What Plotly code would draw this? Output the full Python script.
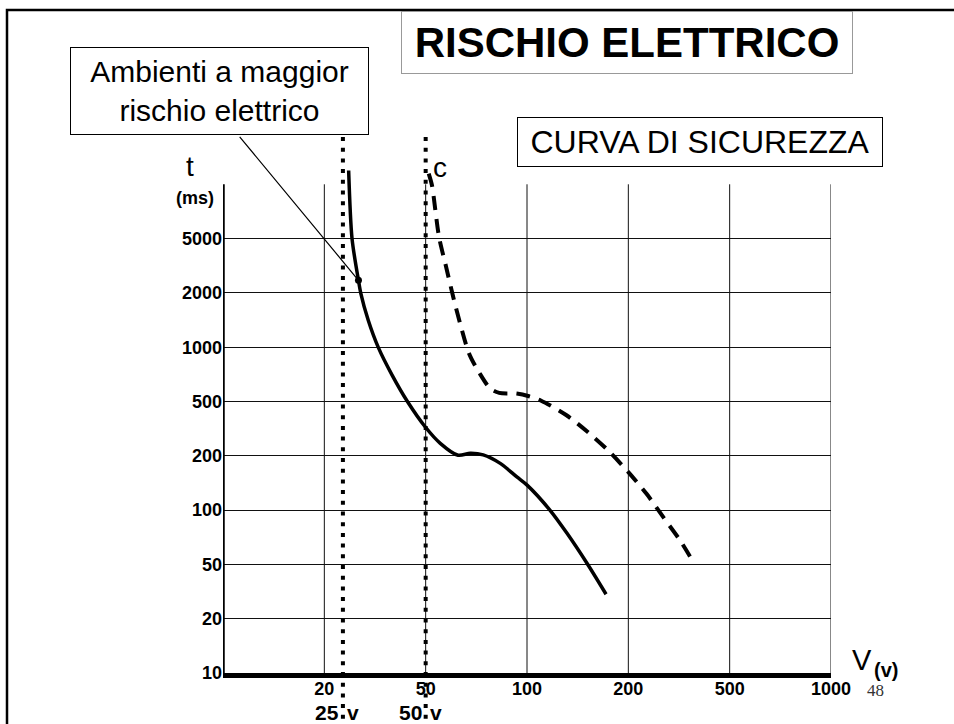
import numpy as np
import plotly.graph_objects as go

# ---------------- data ----------------
# 1-2-5 grid scale used by the chart (equal spacing between successive values)
grid_scale = [10, 20, 50, 100, 200, 500, 1000, 2000, 5000, 10000, 20000]

x_tick_values = [20, 50, 100, 200, 500, 1000]
x_tick_labels = ["20", "50", "100", "200", "500", "1000"]
y_tick_values = [10, 20, 50, 100, 200, 500, 1000, 2000, 5000]
y_tick_labels = ["10", "20", "50", "100", "200", "500", "1000", "2000", "5000"]

# safety curve for environments with higher electrical risk (solid)
curve_L_V = [27.2, 28.2, 30.1, 30.8, 33.0, 36.0, 40.1, 44.7, 49.9, 57.2, 66.0,
             72.0, 78.4, 86.8, 95.0, 100.1, 122.8, 139.5, 159.2, 178.0]
curve_L_t = [12540, 5000, 2696, 1993, 1496, 996, 741, 497, 359, 269, 203,
             214, 205, 186, 161, 146, 99.8, 78.6, 51, 33.5]

# curve C, ordinary environments (dashed)
curve_C_V = [51.5, 53.1, 56.6, 60.1, 63.6, 67.0, 71.4, 76.7, 81.9, 86.3, 94.9,
             102, 114, 139, 160, 180, 200, 254, 303, 353, 395]
curve_C_t = [11970, 9910, 5145, 3431, 1924, 1435, 943, 757, 619, 579, 573,
             548, 507, 424, 331, 230, 170, 130, 93.7, 72.2, 50.8]

# highlighted point on the solid curve
point_V = [30.1]
point_t = [2696]

# reference voltages (dotted verticals)
limit_voltages = [25.5, 50]
limit_labels = ["25", "50"]

# ---------------- helpers ----------------
grid_idx = list(range(len(grid_scale)))


def g(v):
    return np.interp(np.asarray(v, dtype=float), grid_scale, grid_idx)


W, H = 954, 724
ML, MR, MT, MB = 223, 123, 168, 51
PW, PH = W - ML - MR, H - MT - MB
Y_TOP = 9.3


def px(x):
    return (x - ML) / PW


def py(y):
    return (H - MB - y) / PH


FONT = "Liberation Sans, Arial, sans-serif"

fig = go.Figure()

fig.add_trace(go.Scatter(
    x=g(curve_L_V), y=g(curve_L_t), mode="lines",
    line=dict(color="black", width=3.5, shape="spline", smoothing=0.8),
    showlegend=False, hoverinfo="skip"))

fig.add_trace(go.Scatter(
    x=g(curve_C_V), y=g(curve_C_t), mode="lines",
    line=dict(color="black", width=4, dash="14px,9px", shape="spline", smoothing=0.8),
    showlegend=False, hoverinfo="skip"))

fig.add_trace(go.Scatter(
    x=g(point_V), y=g(point_t), mode="markers",
    marker=dict(color="black", size=7),
    showlegend=False, hoverinfo="skip"))

shapes = []
# vertical grid lines (stop at the top tick row)
for v in x_tick_values:
    xi = float(g(v))
    shapes.append(dict(type="line", xref="x", yref="y", x0=xi, x1=xi,
                       y0=0, y1=float(g(10000)), line=dict(color="#111", width=1),
                       layer="below"))
# y axis line
shapes.append(dict(type="line", xref="x", yref="y", x0=0, x1=0, y0=0,
                   y1=float(g(10000)), line=dict(color="black", width=3.5)))
# dotted reference voltage lines
for v in limit_voltages:
    xi = float(g(v))
    shapes.append(dict(type="line", xref="x", yref="paper", x0=xi, x1=xi,
                       y0=py(137), y1=-0.25,
                       line=dict(color="black", width=4, dash="4px,6.7px")))
# slide border
shapes.append(dict(type="rect", xref="paper", yref="paper",
                   x0=px(7), x1=px(980), y0=py(10), y1=py(760),
                   line=dict(color="black", width=2.5), fillcolor="rgba(0,0,0,0)"))


def label(text, x, y, size, family=FONT, color="black"):
    return dict(text=text, xref="paper", yref="paper", x=px(x), y=py(y),
                xanchor="center", yanchor="middle", showarrow=False,
                font=dict(family=family, size=size, color=color))


annotations = [
    dict(text="<b>RISCHIO ELETTRICO</b>", xref="paper", yref="paper",
         x=px(627), y=py(42.5), showarrow=False, xanchor="center", yanchor="middle",
         font=dict(family=FONT, size=42, color="black"),
         bordercolor="#999", borderwidth=1, borderpad=0, bgcolor="white",
         width=450, height=61),
    dict(text="Ambienti a maggior<br>rischio elettrico", xref="paper", yref="paper",
         x=px(219), y=py(91.4), showarrow=False, xanchor="center", yanchor="middle",
         font=dict(family=FONT, size=30, color="black"),
         bordercolor="black", borderwidth=1, borderpad=0, bgcolor="white",
         width=297, height=86),
    dict(text="CURVA DI SICUREZZA", xref="paper", yref="paper",
         x=px(700.3), y=py(142), showarrow=False, xanchor="center", yanchor="middle",
         font=dict(family=FONT, size=32, color="black"),
         bordercolor="black", borderwidth=1, borderpad=0, bgcolor="white",
         width=364, height=48),
    dict(text="", x=float(g(point_V)[0]), y=float(g(point_t)[0]), xref="x", yref="y",
         showarrow=True, arrowhead=0, arrowwidth=1.2, arrowcolor="black",
         ax=-120, ay=-145, standoff=0),
    label("t", 190, 166, 28),
    label("<b>(ms)</b>", 195, 198, 18),
    label("c", 440, 167, 28),
    label("V", 862.3, 660, 29),
    label("<b>(v)</b>", 886, 669.5, 20),
    label("48", 875.3, 690, 17, family="Liberation Serif, Times New Roman, serif",
          color="#333"),
]
for v, lab in zip(limit_voltages, limit_labels):
    xi = float(g(v))
    annotations.append(dict(text="<b>%s</b>" % lab, x=xi, xref="x", yref="paper",
                            y=py(712), xanchor="right", yanchor="middle", xshift=-2,
                            showarrow=False, font=dict(family=FONT, size=21, color="black")))
    annotations.append(dict(text="<b>v</b>", x=xi, xref="x", yref="paper",
                            y=py(712), xanchor="left", yanchor="middle", xshift=2,
                            showarrow=False, font=dict(family=FONT, size=21, color="black")))

fig.update_layout(
    width=W, height=H,
    margin=dict(l=ML, r=MR, t=MT, b=MB, pad=0),
    paper_bgcolor="white", plot_bgcolor="white",
    shapes=shapes, annotations=annotations,
    xaxis=dict(range=[0, 6], tickvals=g(x_tick_values), ticktext=x_tick_labels,
               showgrid=False, zeroline=False, showline=True, linecolor="black",
               linewidth=4.5, ticks="", ticklabelstandoff=-4,
               tickfont=dict(family=FONT, size=18, color="black", weight="bold")),
    yaxis=dict(range=[0, Y_TOP], tickvals=g(y_tick_values), ticktext=y_tick_labels,
               showgrid=True, gridcolor="#111", gridwidth=1, zeroline=False,
               showline=False, ticks="",
               tickfont=dict(family=FONT, size=18, color="black", weight="bold")),
)

fig.write_html(
    "out.html",
    config={"displayModeBar": False},
    post_script="document.body.style.margin='0';document.body.style.overflow='hidden';",
)
